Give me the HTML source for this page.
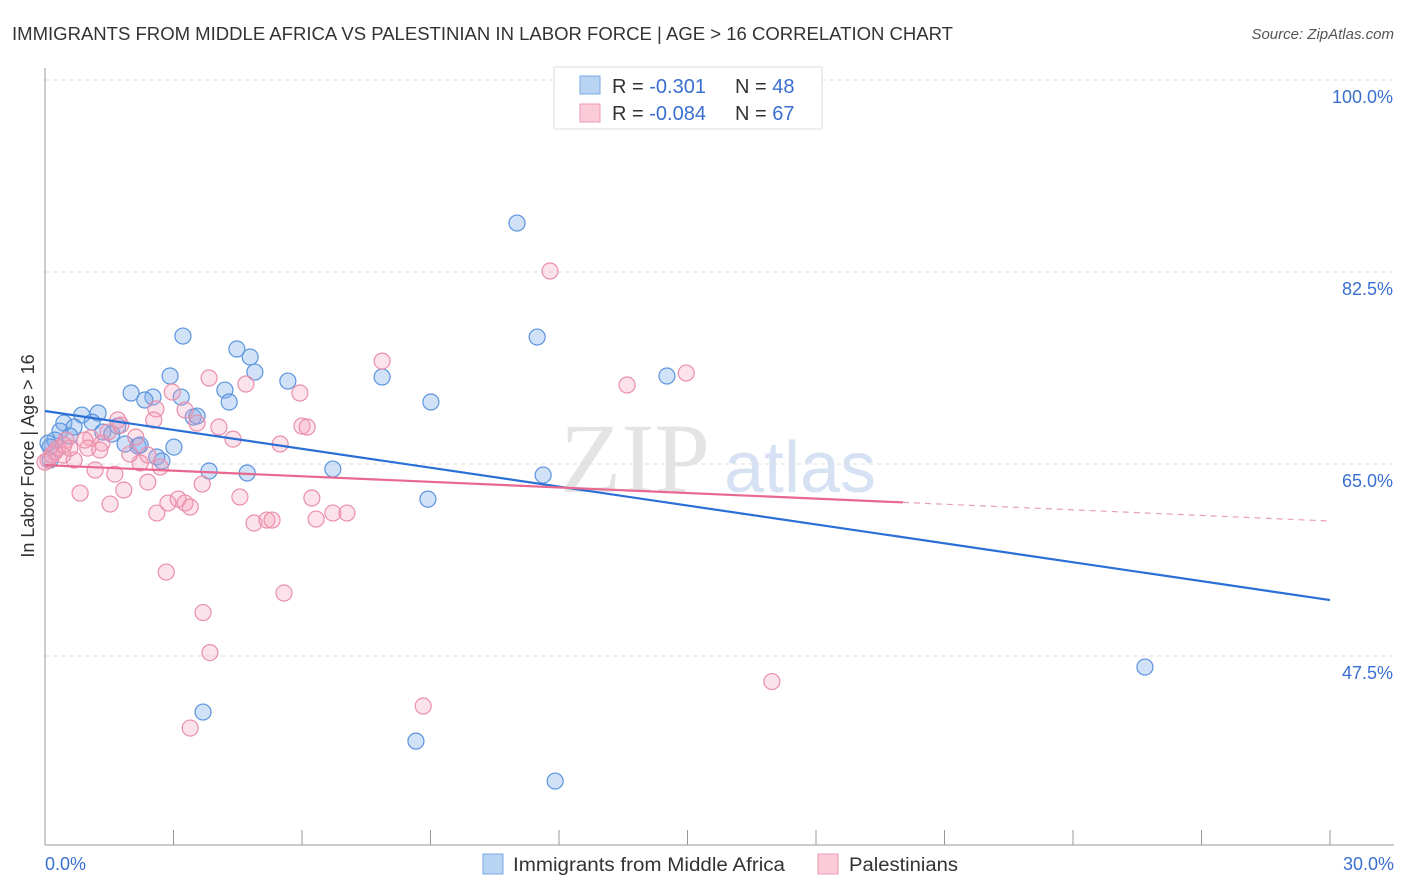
<!DOCTYPE html>
<html><head><meta charset="utf-8">
<style>
body{margin:0;background:#fff;font-family:"Liberation Sans",sans-serif;}
#wrap{position:relative;width:1406px;height:892px;overflow:hidden;}
</style></head>
<body>
<div id="wrap">
<svg id="svg" width="1406" height="892" xmlns="http://www.w3.org/2000/svg">
<text x="12" y="40" font-size="18" fill="#333" textLength="941" lengthAdjust="spacingAndGlyphs">IMMIGRANTS FROM MIDDLE AFRICA VS PALESTINIAN IN LABOR FORCE | AGE &gt; 16 CORRELATION CHART</text>
<text x="1394" y="39" font-size="15" fill="#555" text-anchor="end" font-style="italic">Source: ZipAtlas.com</text>
<text x="635" y="492" font-size="100" fill="#e4e4e4" text-anchor="middle" font-family="Liberation Serif,serif">ZIP</text>
<text x="800" y="492" font-size="72" fill="#d6e2f3" text-anchor="middle">atlas</text>
<g id="grid"></g><g id="axes"></g><g id="pts"></g><g id="lines"></g>
<text transform="translate(34,456) rotate(-90)" font-size="18" fill="#333" text-anchor="middle">In Labor Force | Age &gt; 16</text>
<text x="45" y="870" font-size="18" fill="#3a6fd0">0.0%</text>
<text x="1394" y="870" font-size="18" fill="#3a6fd0" text-anchor="end">30.0%</text>
<g>
<rect x="554" y="67" width="268" height="62" fill="#fff" stroke="#ddd"/>
<rect x="580" y="76" width="20" height="18" fill="#b9d3f3" stroke="#7aa9e6"/>
<rect x="580" y="104" width="20" height="18" fill="#fbcbd8" stroke="#ee9ab4"/>
<text x="612" y="93" font-size="20" fill="#333">R = <tspan fill="#3a6fd0"> -0.301</tspan><tspan x="735">N = </tspan><tspan fill="#3a6fd0">48</tspan></text>
<text x="612" y="120" font-size="20" fill="#333">R = <tspan fill="#3a6fd0">-0.084</tspan><tspan x="735">N = </tspan><tspan fill="#3a6fd0">67</tspan></text>
</g>
<g>
<rect x="483" y="854" width="20" height="20" fill="#b9d3f3" stroke="#7aa9e6"/>
<text x="513" y="871" font-size="19" fill="#333" textLength="272" lengthAdjust="spacingAndGlyphs">Immigrants from Middle Africa</text>
<rect x="818" y="854" width="20" height="20" fill="#fbcbd8" stroke="#ee9ab4"/>
<text x="849" y="871" font-size="19" fill="#333" textLength="109" lengthAdjust="spacingAndGlyphs">Palestinians</text>
</g>
</svg>
</div>
<script>
const yTicks=[100,82.5,65,47.5];
const yTickLabels=["100.0%","82.5%","65.0%","47.5%"];
const xTicks=[0,3,6,9,12,15,18,21,24,27,30];
const blueX=[11.02,3.22,11.49,4.48,4.79,4.90,2.92,7.87,14.52,5.67,2.01,2.52,4.20,2.33,3.18,4.30,9.01,1.24,0.86,3.46,3.55,0.44,1.10,0.68,1.70,0.35,1.35,1.56,0.58,1.87,2.17,3.01,0.23,0.12,2.61,2.73,3.83,4.72,6.72,11.63,8.94,25.68,3.69,8.66,11.91,0.12,0.07,2.22];
const blueY=[86.96,76.66,76.57,75.48,74.75,73.38,73.02,72.93,73.02,72.56,71.47,71.1,71.74,70.83,71.1,70.65,70.65,69.65,69.46,69.28,69.37,68.73,68.82,68.37,68.46,68.0,67.91,67.73,67.55,66.82,66.64,66.54,67.18,66.54,65.64,65.27,64.36,64.18,64.54,63.99,61.8,46.49,42.39,39.74,36.1,65.36,66.91,66.73];
const pinkX=[11.79,7.87,13.59,14.97,3.83,4.69,2.97,5.95,2.59,3.27,3.55,2.54,1.70,1.77,4.06,4.39,5.49,6.00,6.12,1.07,1.33,0.49,1.00,0.23,0.42,0.68,1.17,2.22,2.69,1.63,2.40,1.84,3.67,0.82,1.52,2.87,3.11,3.27,3.39,2.61,4.55,6.23,4.88,5.18,5.30,6.33,6.72,7.05,2.83,5.58,3.69,3.85,16.97,8.83,3.39,0.07,0.16,0.30,0.0,0.58,1.98,0.93,1.47,2.12,0.44,1.28,2.40];
const pinkY=[82.59,74.38,72.2,73.29,72.84,72.29,71.56,71.47,70.01,69.92,68.73,69.01,69.01,68.55,68.37,67.27,66.82,68.46,68.37,67.37,66.91,67.18,66.45,66.09,65.82,65.36,64.45,65.09,64.72,64.08,63.35,62.63,63.17,62.35,61.35,61.44,61.8,61.44,61.08,60.53,61.99,61.9,59.62,59.89,59.89,59.98,60.53,60.53,55.15,53.24,51.46,47.81,45.17,42.94,40.93,65.36,65.82,66.45,65.18,66.45,65.91,67.18,67.91,67.46,66.73,66.27,65.82];
const blueTrend=[[0,69.83],[30,52.6]];
const pinkTrend=[[0,64.9],[20.03,61.5],[30,59.8]];

const X=v=>45+v*(1285/30);
const Y=v=>80+(100-v)*(192/17.5);
const NS="http://www.w3.org/2000/svg";
function mk(tag,attrs,parent){const e=document.createElementNS(NS,tag);for(const k in attrs)e.setAttribute(k,attrs[k]);document.getElementById(parent).appendChild(e);return e;}

yTicks.forEach((t,i)=>{
  const l=mk('line',{x1:45,x2:1394,y1:Y(t),y2:Y(t),stroke:'#ddd','stroke-dasharray':'4,4'},'grid');
  
  
  const tx=mk('text',{x:1393,y:Y(t)+23,'font-size':18,fill:'#3a6fd0','text-anchor':'end'},'grid');
  tx.textContent=yTickLabels[i];
  
  
});
const ya=mk('line',{x1:45,x2:45,y1:68,y2:845,stroke:'#999'},'axes');


const xa=mk('line',{x1:45,x2:1394,y1:845,y2:845,stroke:'#999'},'axes');


xTicks.forEach(t=>{
  const l=mk('line',{x1:X(t),x2:X(t),y1:830,y2:845,stroke:'#999'},'axes');
  
  
});
blueX.forEach((v,i)=>{
  const c=mk('circle',{cx:X(v),cy:Y(blueY[i]),r:8,fill:'rgba(120,170,235,0.35)',stroke:'#5b95dd','stroke-width':1.2},'pts');
  
  
});
pinkX.forEach((v,i)=>{
  const c=mk('circle',{cx:X(v),cy:Y(pinkY[i]),r:8,fill:'rgba(245,160,185,0.3)',stroke:'#ea8fab','stroke-width':1.2},'pts');
  
  
});
const bl=mk('line',{x1:X(blueTrend[0][0]),y1:Y(blueTrend[0][1]),x2:X(blueTrend[1][0]),y2:Y(blueTrend[1][1]),stroke:'#2a6fd6','stroke-width':2.2},'lines');


const pl=mk('line',{x1:X(pinkTrend[0][0]),y1:Y(pinkTrend[0][1]),x2:X(pinkTrend[1][0]),y2:Y(pinkTrend[1][1]),stroke:'#e8688f','stroke-width':2.2},'lines');


const pd=mk('line',{x1:X(pinkTrend[1][0]),y1:Y(pinkTrend[1][1]),x2:X(pinkTrend[2][0]),y2:Y(pinkTrend[2][1]),stroke:'#e8a0b5','stroke-width':1.2,'stroke-dasharray':'6,5'},'lines');


</script>
</body></html>
